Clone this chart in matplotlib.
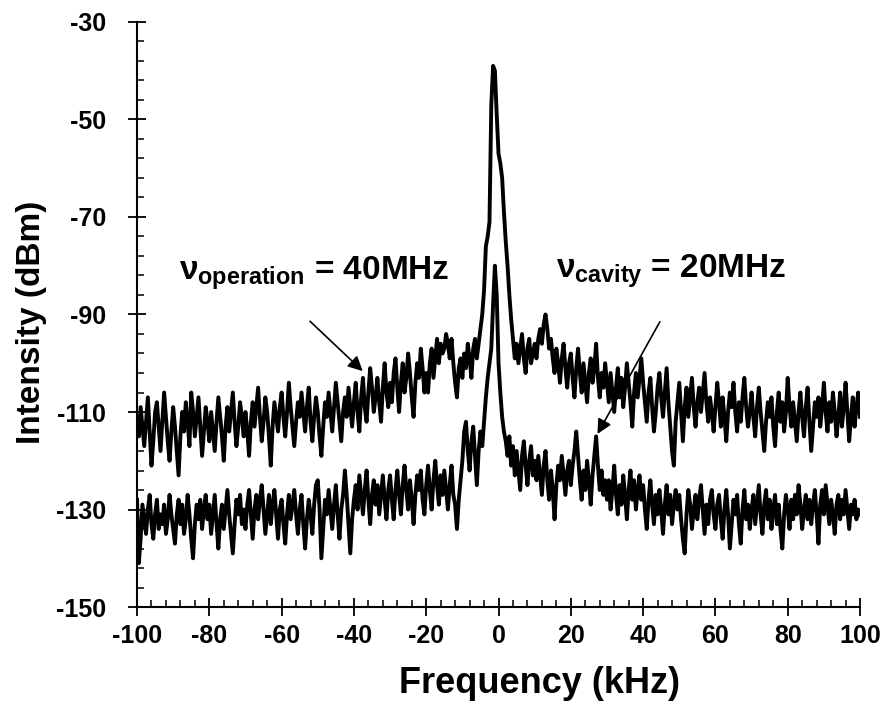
import numpy as np
import matplotlib.pyplot as plt

plt.rcParams['font.family'] = ['Liberation Sans', 'DejaVu Sans']
plt.rcParams['font.weight'] = 'bold'
plt.rcParams['axes.unicode_minus'] = False
plt.rcParams['mathtext.fontset'] = 'custom'
plt.rcParams['mathtext.rm'] = 'Liberation Sans:bold'
plt.rcParams['mathtext.it'] = 'Liberation Sans:bold'
plt.rcParams['mathtext.bf'] = 'Liberation Sans:bold'

# Spectre lu sur la figure, pas de 0.5 kHz de -100 a +100 kHz
# courbe du haut : nu_operation = 40 MHz
upper = [
    -111, -115, -109, -113, -117, -112, -107, -114, -121, -116, -110, -108, -113, -118, -112, -106, -111, -116, -120, -114,
    -109, -113, -118, -123, -115, -110, -114, -108, -112, -117, -106, -110, -115, -111, -107, -113, -119, -114, -109, -112,
    -116, -110, -114, -118, -112, -107, -111, -115, -120, -113, -109, -114, -110, -106, -112, -117, -113, -108, -111, -115,
    -110, -114, -119, -112, -108, -113, -109, -105, -111, -116, -112, -107, -110, -115, -121, -113, -108, -111, -114, -109,
    -106, -111, -115, -110, -104, -109, -113, -117, -112, -108, -111, -106, -110, -114, -109, -105, -112, -116, -111, -107,
    -110, -115, -119, -113, -108, -111, -106, -110, -114, -109, -104, -108, -112, -116, -110, -107, -111, -105, -109, -113,
    -108, -104, -110, -114, -107, -103, -109, -112, -106, -101, -105, -110, -107, -103, -108, -112, -105, -100, -106, -109,
    -104, -108, -102, -99, -105, -110, -104, -100, -106, -103, -98, -102, -107, -111, -104, -100, -103, -97, -101, -106,
    -102, -106, -100, -97, -103, -99, -95, -100, -96, -98, -97, -94, -96, -99, -95, -100, -104, -107, -101, -99,
    -103, -98, -101, -96, -99, -103, -97, -95, -99, -96, -93, -90, -85, -76, -74, -71, -47, -39, -40, -49,
    -57, -59, -62, -69, -75, -80, -86, -91, -95, -99, -96, -100, -97, -94, -99, -102, -97, -95, -100, -98,
    -96, -99, -95, -93, -96, -92, -90, -93, -97, -95, -99, -102, -97, -100, -104, -99, -96, -101, -105, -100,
    -98, -103, -107, -101, -97, -102, -106, -100, -104, -108, -102, -99, -104, -101, -96, -103, -107, -102, -105, -100,
    -104, -108, -102, -106, -110, -105, -101, -107, -103, -109, -105, -100, -104, -108, -113, -106, -102, -107, -103, -99,
    -104, -108, -112, -106, -103, -109, -114, -110, -105, -102, -107, -111, -106, -101, -108, -113, -118, -121, -112, -108,
    -104, -110, -116, -109, -105, -111, -107, -103, -109, -113, -108, -105, -110, -106, -102, -108, -112, -107, -110, -114,
    -109, -104, -108, -113, -107, -111, -116, -110, -106, -109, -104, -110, -114, -108, -112, -107, -103, -109, -113, -110,
    -106, -111, -115, -109, -105, -110, -114, -118, -112, -108, -111, -107, -113, -117, -110, -106, -112, -108, -114, -110,
    -103, -109, -113, -108, -112, -116, -110, -106, -111, -115, -109, -105, -112, -118, -113, -108, -111, -107, -113, -109,
    -104, -110, -114, -108, -112, -106, -110, -115, -111, -106, -113, -109, -104, -110, -116, -111, -107, -113, -109, -106,
    -111,
]

# courbe du bas : nu_cavity = 20 MHz
lower = [
    -128, -141, -136, -129, -132, -135, -130, -127, -133, -136, -131, -128, -134, -131, -133, -129, -135, -132, -127, -131,
    -134, -137, -131, -128, -133, -129, -135, -132, -127, -131, -136, -140, -133, -129, -132, -128, -134, -130, -127, -132,
    -129, -135, -131, -127, -133, -138, -132, -129, -134, -130, -126, -131, -135, -139, -133, -128, -131, -127, -133, -130,
    -134, -129, -126, -131, -136, -130, -127, -132, -128, -125, -130, -135, -131, -127, -133, -129, -126, -131, -136, -130,
    -128, -133, -137, -131, -127, -132, -129, -126, -131, -135, -130, -127, -133, -138, -132, -128, -131, -135, -129, -125,
    -124, -130, -140, -134, -128, -131, -126, -130, -134, -129, -125, -131, -136, -130, -127, -122, -127, -133, -139, -132,
    -128, -125, -130, -123, -127, -131, -126, -122, -128, -133, -127, -124, -129, -125, -131, -127, -123, -128, -132, -126,
    -123, -128, -132, -126, -122, -127, -131, -125, -121, -126, -130, -124, -128, -133, -127, -123, -126, -122, -128, -131,
    -125, -121, -126, -130, -124, -120, -125, -129, -123, -127, -122, -126, -130, -125, -121, -127, -129, -134, -128, -124,
    -120, -114, -112, -118, -122, -116, -113, -119, -125, -118, -114, -117, -112, -107, -103, -100, -97, -88, -80, -86,
    -100, -106, -111, -114, -116, -119, -115, -121, -117, -123, -118, -122, -126, -119, -116, -121, -125, -120, -117, -123,
    -120, -124, -119, -123, -127, -121, -118, -124, -128, -122, -126, -132, -125, -121, -124, -119, -123, -127, -122, -120,
    -125, -121, -118, -114, -119, -124, -128, -122, -126, -120, -124, -129, -123, -119, -115, -121, -126, -122, -127, -124,
    -128, -124, -130, -126, -121, -127, -131, -125, -129, -123, -127, -132, -126, -122, -128, -124, -130, -126, -123, -128,
    -125, -130, -134, -128, -124, -129, -133, -127, -131, -126, -130, -135, -129, -125, -131, -127, -133, -129, -126, -130,
    -127, -132, -136, -139, -131, -126, -129, -134, -130, -127, -132, -128, -125, -130, -135, -129, -133, -128, -126, -131,
    -134, -129, -127, -132, -136, -130, -126, -131, -138, -133, -128, -131, -127, -133, -137, -130, -126, -132, -129, -134,
    -130, -127, -133, -129, -125, -131, -135, -129, -126, -132, -128, -134, -130, -127, -133, -129, -134, -138, -131, -127,
    -130, -134, -128, -132, -127, -131, -125, -129, -134, -130, -127, -132, -128, -133, -129, -126, -131, -137, -129, -126,
    -131, -125, -129, -133, -128, -131, -135, -129, -127, -132, -128, -131, -126, -130, -134, -129, -131, -128, -132, -130,
    -131,
]

assert len(upper) == 401 and len(lower) == 401, (len(upper), len(lower))
freq = np.linspace(-100, 100, len(upper))

fig = plt.figure(figsize=(8.8, 7.02), dpi=100)
ax = fig.add_axes([0.1557, 0.1353, 0.8216, 0.8334])

ax.plot(freq, upper, 'k-', lw=2.8)
ax.plot(freq, lower, 'k-', lw=2.8)

ax.set_xlim(-100, 100)
ax.set_ylim(-150, -30)
ax.set_xticks(np.arange(-100, 101, 20))
ax.set_xticks(np.arange(-100, 101, 4), minor=True)
ax.set_yticks(np.arange(-150, -29, 20))
ax.set_yticks(np.arange(-150, -29, 4), minor=True)

# axes style "papier" : seulement gauche et bas
ax.spines['top'].set_visible(False)
ax.spines['right'].set_visible(False)
ax.spines['left'].set_linewidth(1.5)
ax.spines['bottom'].set_linewidth(1.5)
ax.tick_params(which='major', direction='inout', length=13, width=1.3, labelsize=18)
ax.tick_params(which='minor', direction='in', length=5, width=1.1)
ax.tick_params(axis='x', which='major', pad=6)
ax.tick_params(axis='y', which='major', pad=16)

ax.set_xlabel('Frequency (kHz)', fontsize=26, fontweight='bold')
ax.xaxis.set_label_coords(0.557, -0.1)
ax.set_ylabel('Intensity (dBm)', fontsize=24, fontweight='bold')
ax.yaxis.set_label_coords(-0.125, 0.487)

# annotations
ax.text(-88.4, -82.9, r'$\nu_{operation}$ = 40MHz', fontsize=24, fontweight='bold')
ax.text(15.9, -82.5, r'$\nu_{cavity}$ = 20MHz', fontsize=24, fontweight='bold')
ax.annotate('', xy=(-37, -102), xytext=(-52.7, -91),
            arrowprops=dict(arrowstyle='-|>', color='k', lw=1.2, mutation_scale=22))
ax.annotate('', xy=(27, -115), xytext=(45, -91),
            arrowprops=dict(arrowstyle='-|>', color='k', lw=1.2, mutation_scale=22))

plt.savefig('out.png', dpi=100)
